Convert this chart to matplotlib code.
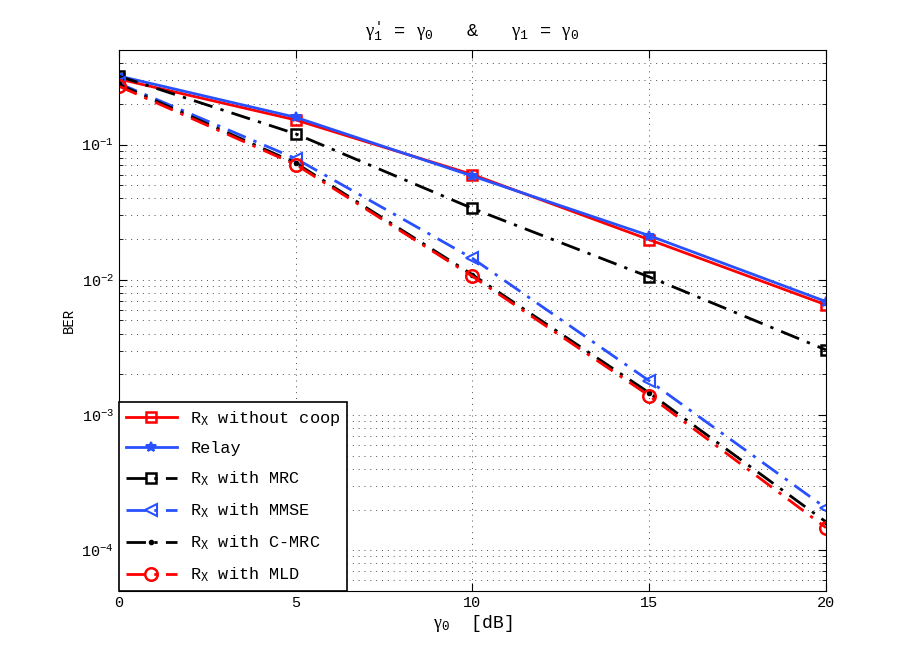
import numpy as np
import matplotlib
matplotlib.use("Agg")
import matplotlib.pyplot as plt

plt.rcParams['font.family'] = ['Liberation Mono', 'DejaVu Sans']
plt.rcParams['mathtext.fontset'] = 'custom'
plt.rcParams['mathtext.rm'] = 'Liberation Mono'
plt.rcParams['mathtext.it'] = 'Liberation Serif'

# SNR points (dB)
snr_db = [0, 5, 10, 15, 20]

# BER
ber_no_coop = [0.305, 0.152, 0.060, 0.0198, 0.00653]
ber_relay = [0.321, 0.159, 0.0585, 0.0212, 0.0069]
ber_mrc = [0.320, 0.120, 0.0337, 0.0105, 0.00303]
ber_mmse = [0.283, 0.0787, 0.0144, 0.00179, 2.05e-4]
ber_cmrc = [0.278, 0.0730, 0.0109, 0.00146, 1.62e-4]
ber_mld = [0.270, 0.0711, 0.0106, 0.00139, 1.47e-4]

labels = [r'R$_{\rm X}$ without coop', 'Relay', r'R$_{\rm X}$ with MRC',
          r'R$_{\rm X}$ with MMSE', r'R$_{\rm X}$ with C-MRC', r'R$_{\rm X}$ with MLD']

red = '#ff0000'
blue = '#2850ff'
dashdot = (0, (7, 3, 1.2, 3))

fig = plt.figure(figsize=(9.13, 6.65), dpi=100)
ax = fig.add_axes([0.1303, 0.1113, 0.7744, 0.8135])

ax.semilogy(snr_db, ber_no_coop, '-', color=red, lw=2, marker='s', ms=7,
            mfc='none', mew=1.8, label=labels[0])
ax.semilogy(snr_db, ber_relay, '-', color=blue, lw=2, marker='*', ms=7,
            mew=1.5, label=labels[1])
ax.semilogy(snr_db, ber_mrc, ls=dashdot, color='k', lw=2, marker='s', ms=7,
            mfc='none', mew=1.8, label=labels[2])
ax.semilogy(snr_db, ber_mmse, ls=dashdot, color=blue, lw=2, marker='<', ms=9,
            mfc='none', mew=1.5, label=labels[3])
ax.semilogy(snr_db, ber_cmrc, ls=dashdot, color='k', lw=2, marker='.', ms=6,
            label=labels[4])
ax.semilogy(snr_db, ber_mld, ls=dashdot, color=red, lw=2, marker='o', ms=9,
            mfc='none', mew=1.8, label=labels[5])

ax.set_xlim(0, 20)
ax.set_ylim(5e-5, 0.5)
ax.set_xticks([0, 5, 10, 15, 20])
ax.set_yticks([1e-4, 1e-3, 1e-2, 1e-1])
ax.tick_params(which='both', direction='in', top=True, right=True, labelsize=11)
ax.tick_params(which='major', length=6)
ax.tick_params(which='minor', length=3)
grid_style = dict(ls=(0, (1, 5)), color='k', lw=0.7, alpha=0.7)
ax.grid(True, which='major', **grid_style)
ax.grid(True, which='minor', axis='y', **grid_style)

ax.set_xlabel(r'$\gamma_0$  [dB]', fontsize=13, labelpad=2)
ax.set_ylabel('BER', fontsize=10)
ax.set_title(r"$\gamma_1^{\prime}$ = $\gamma_0$   &   $\gamma_1$ = $\gamma_0$",
             fontsize=13.5, pad=10)

leg = ax.legend(loc='lower left', borderaxespad=0, fontsize=12.2, fancybox=False,
                framealpha=1, edgecolor='k', handlelength=3.0, labelspacing=0.8)
leg.get_frame().set_linewidth(1.2)

fig.savefig('out.png', dpi=100)
